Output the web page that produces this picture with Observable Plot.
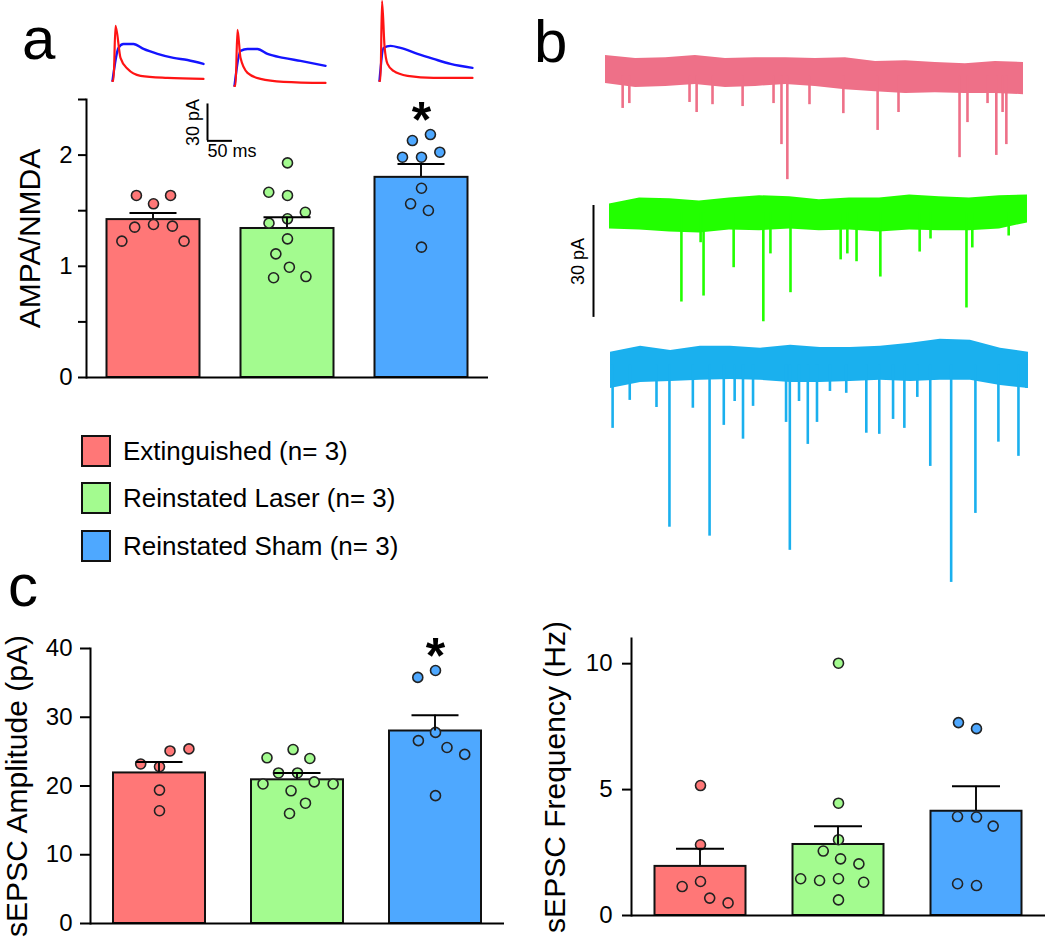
<!DOCTYPE html>
<html><head><meta charset="utf-8">
<script src="https://cdn.jsdelivr.net/npm/d3@7"></script>
<script src="https://cdn.jsdelivr.net/npm/@observablehq/plot@0.6"></script>
<style>
body{margin:0;background:#fff;}
#fig{position:relative;width:1050px;height:941px;overflow:hidden;font-family:"Liberation Sans",Arial,sans-serif;color:#000;background:#fff;}
#fig svg{position:absolute;overflow:visible;max-width:none;}
.pl g[aria-label="y-axis label"], .pl g[aria-label="y-axis label"] text{font-size:30px;}
.letter{position:absolute;font-size:60px;line-height:1;}
.leg{position:absolute;left:81px;height:34px;display:flex;align-items:center;font-size:26px;white-space:nowrap;}
.sw{width:26px;height:28px;border:2px solid #111;margin-right:12px;}
</style></head><body><div id="fig"></div>
<script>
// ---------- data ----------
const groups = ["Extinguished", "Reinstated Laser", "Reinstated Sham"];
const groupColors = ["#ff7777", "#a3fb8f", "#4ea8ff"];
const legendLabels = ["Extinguished (n= 3)", "Reinstated Laser (n= 3)", "Reinstated Sham (n= 3)"];

// AMPA/NMDA ratio
const ampaNmdaExt = [1.562, 1.637, 1.637, 1.376, 1.352, 1.361, 1.226, 1.226];
const ampaNmdaLaser = [1.427, 1.388, 1.486, 1.637, 1.666, 1.930, 1.247, 1.112, 0.992, 0.897, 0.908];
const ampaNmdaSham = [1.981, 1.981, 2.026, 2.131, 2.185, 1.702, 1.562, 1.502, 1.172];
const ampaNmdaMean = [1.42, 1.34, 1.80];
const ampaNmdaSem = [0.06, 0.10, 0.12];

// sEPSC amplitude (pA)
const ampExt = [22.8, 23.2, 25.1, 25.4, 19.4, 16.4];
const ampLaser = [21.9, 21.9, 20.6, 20.3, 20.3, 24.0, 25.3, 24.1, 19.3, 17.5, 16.0];
const ampSham = [27.8, 26.6, 25.6, 24.6, 36.8, 35.8, 18.6];
const ampMean = [21.9, 20.9, 28.0];
const ampSem = [1.6, 1.0, 2.3];

// sEPSC frequency (Hz)
const freqExt = [5.16, 2.81, 1.35, 1.15, 0.69, 0.50];
const freqLaser = [10.02, 4.46, 3.01, 2.56, 2.25, 2.05, 1.46, 1.39, 1.32, 1.46, 0.62];
const freqSham = [7.42, 7.66, 3.91, 3.93, 3.55, 1.19, 1.26];
const freqMean = [1.95, 2.82, 4.14];
const freqSem = [0.70, 0.72, 0.99];

// significance markers
const sigAmpaNmda = ["Reinstated Sham"];
const sigAmp = ["Reinstated Sham"];
const sigFreq = [];

// panel a example traces: [time (ms), current (pA)]
const ampaTrace1 = [[0,0],[2,0],[6,44.7],[16,18.7],[30,9.8],[56,4.1],[110,2.4],[182,1.6]];
const nmdaTrace1 = [[0,0],[12,26.8],[22,30],[42,30],[62,26],[90,22],[122,18.7],[150,17],[182,13.8]];
const ampaTrace2 = [[0,0],[2,0],[6,45.5],[12,22.8],[26,10.6],[52,5.7],[98,3.3],[182,2.4]];
const nmdaTrace2 = [[0,0],[12,28.5],[26,30],[46,30],[66,26],[98,22.8],[132,20.3],[182,16.3]];
const ampaTrace3 = [[0,0],[2,0],[5,65],[10,28.5],[16,13.8],[28,8.1],[56,4.1],[108,2.4],[186,2.4]];
const nmdaTrace3 = [[0,0],[8,26.8],[22,28.5],[42,26.8],[76,22],[108,17.9],[142,13.8],[186,10.6]];
const scaleBarA = {amp: 30, dur: 50, ampLabel: "30 pA", durLabel: "50 ms"};

// panel b sEPSC traces: noise envelope (pA) and events [time (s), pA]
const bandTimes = [0, 0.72, 1.44, 2.15, 2.87, 3.59, 4.31, 5.02, 5.74, 6.46, 7.18, 7.89, 8.61, 9.33, 10.0];
const extHi = [5.4,4.6,4.8,5.4,4.6,4.8,4.8,4.6,4.8,3.8,4.0,3.5,3.2,3.8,3.5];
const extLo = [-2.1,-3.2,-2.9,-2.4,-3.2,-2.9,-2.4,-2.9,-3.8,-4.3,-4.8,-4.6,-4.8,-4.8,-5.1];
const extEvents = [[0.41,-8.8],[0.57,-7.5],[2.01,-7.2],[2.18,-9.9],[2.56,-7.8],[3.28,-8.3],[4.02,-7.5],[4.21,-18.5],[4.35,-27.9],[4.88,-7.8],[5.69,-10.2],[6.51,-14.7],[7.01,-9.9],[8.47,-22.0],[8.66,-12.6],[9.14,-7.5],[9.35,-21.4],[9.50,-9.9],[9.59,-18.5]];
const laserHi = [2.4,4.0,3.8,3.2,4.0,4.6,4.3,3.5,4.0,4.0,4.8,4.3,4.0,4.6,4.8];
const laserLo = [-4.3,-4.6,-5.1,-5.4,-4.6,-4.8,-4.3,-4.8,-4.6,-5.1,-4.6,-4.8,-4.8,-4.3,-2.7];
const laserEvents = [[1.72,-23.9],[2.18,-8.0],[2.25,-22.3],[2.97,-14.7],[3.68,-29.2],[3.85,-11.0],[4.33,-21.4],[5.53,-12.6],[5.69,-11.0],[5.91,-13.1],[6.48,-17.2],[7.42,-10.5],[7.68,-7.0],[8.54,-25.5],[8.68,-9.4],[9.55,-6.2]];
const shamHi = [3.5,5.1,4.0,5.1,5.1,4.6,5.4,4.8,4.8,5.1,5.9,7.0,6.7,4.6,3.5];
const shamLo = [-6.2,-4.6,-4.3,-4.0,-3.8,-4.0,-4.6,-4.6,-4.3,-4.0,-4.3,-4.0,-4.0,-5.4,-6.2];
const shamEvents = [[0.05,-16.9],[0.46,-9.4],[1.10,-11.3],[1.41,-43.4],[1.97,-11.5],[2.37,-45.8],[2.71,-16.1],[2.97,-9.7],[3.17,-19.8],[3.41,-11.0],[4.20,-15.3],[4.29,-49.6],[4.51,-9.7],[4.72,-21.2],[4.94,-15.3],[5.25,-7.0],[5.64,-7.5],[6.12,-18.2],[6.43,-18.5],[6.76,-14.5],[7.03,-16.9],[7.34,-8.6],[7.65,-27.1],[8.15,-58.2],[8.73,-39.7],[9.28,-20.6],[9.76,-24.4],[9.95,-6.2]];
const scaleBarB = {amp: 30, label: "30 pA"};
const traceColors = ["#ee7088", "#22ff00", "#1ab0ee"];

// ---------- helpers ----------
const fig = document.getElementById("fig");
const FONT = "Liberation Sans, Arial, sans-serif";
function place(el, left, top) { el.style.left = left + "px"; el.style.top = top + "px"; el.classList.add("pl"); fig.appendChild(el); return el; }
function points(lists) { return lists.flatMap((vals, i) => vals.map(value => ({group: groups[i], value}))); }
function summary(means, sems) { return groups.map((g, i) => ({group: g, mean: means[i], sem: sems[i]})); }
function sigData(sig, dots) { return sig.map(g => ({group: g, top: d3.max(dots.filter(d => d.group === g), d => d.value)})); }

function barPanel(o) {
  const width = o.marginLeft + 3 * o.step + o.marginRight;
  const stemInset = (o.step - 2) / 2;
  return Plot.plot({
    width, height: o.height,
    marginLeft: o.marginLeft, marginRight: o.marginRight, marginTop: o.marginTop, marginBottom: o.marginBottom,
    style: {fontFamily: FONT, fontSize: "24px", background: "transparent", color: "#000"},
    fx: {domain: groups, padding: 0, axis: null, label: null},
    y: {domain: o.yDomain},
    color: {domain: groups, range: groupColors},
    marks: [
      Plot.barY(o.summary, {fx: "group", y: "mean", fill: "group", stroke: "#111", strokeWidth: 2, insetLeft: o.barInset, insetRight: o.barInset}),
      Plot.ruleY([0], {strokeWidth: 2}),
      Plot.dot(o.dots, Plot.dodgeX({anchor: "middle", padding: 9}, {fx: "group", y: "value", r: 5, fill: "group", stroke: "#222", strokeWidth: 1.6})),
      Plot.rectY(o.summary, {fx: "group", y1: "mean", y2: d => d.mean + d.sem, fill: "#111", insetLeft: stemInset, insetRight: stemInset}),
      Plot.tickY(o.summary, {fx: "group", y: d => d.mean + d.sem, strokeWidth: 2, insetLeft: o.capInset, insetRight: o.capInset}),
      Plot.text(o.sig, {fx: "group", y: "top", text: () => "*", fontSize: 50, fontWeight: "bold", dy: -14}),
      Plot.axisY({ticks: o.ticks, tickFormat: o.tickFormat, tickSize: o.tickSize, tickPadding: o.tickPadding, strokeWidth: 2, label: o.label, labelAnchor: "center", labelArrow: "none", labelOffset: o.labelOffset}),
      Plot.frame({anchor: "left", strokeWidth: 2, facetAnchor: "left"})
    ]
  });
}

// ---------- panel a ----------
const dotsA = points([ampaNmdaExt, ampaNmdaLaser, ampaNmdaSham]);
place(barPanel({
  dots: dotsA, summary: summary(ampaNmdaMean, ampaNmdaSem), sig: sigData(sigAmpaNmda, dotsA),
  yDomain: [0, 2.5], ticks: 5, tickFormat: d => Number.isInteger(d) ? String(d) : "",
  label: "AMPA/NMDA", labelOffset: 68,
  marginLeft: 86, marginRight: 10, marginTop: 9, marginBottom: 13, height: 300, step: 134,
  tickSize: 8, tickPadding: 6, barInset: 20.5, capInset: 43.5
}), 0, 90);

// example AMPA / NMDA traces
const pxMs = 0.5, pxPa = 1.23;
const traceDomY = [-4, 67];
[[ampaTrace1, nmdaTrace1, 112, 80], [ampaTrace2, nmdaTrace2, 234, 85], [ampaTrace3, nmdaTrace3, 379, 80]].forEach(([ampa, nmda, left, base]) => {
  const p = Plot.plot({
    width: 190 * pxMs, height: (traceDomY[1] - traceDomY[0]) * pxPa, margin: 0,
    style: {background: "transparent"},
    x: {domain: [0, 190], axis: null}, y: {domain: traceDomY, axis: null},
    marks: [
      Plot.line(nmda, {stroke: "#1414ff", strokeWidth: 2.4, curve: "monotone-x"}),
      Plot.line(ampa, {stroke: "#ff1414", strokeWidth: 2.2, curve: "monotone-x"})
    ]
  });
  place(p, left, base - traceDomY[1] * pxPa);
});

// scale bar a
{
  const xd = [-50, 110], yd = [-20, 32];
  const p = Plot.plot({
    width: (xd[1] - xd[0]) * pxMs, height: (yd[1] - yd[0]) * pxPa, margin: 0,
    style: {fontFamily: FONT, fontSize: "18px", background: "transparent", color: "#000"},
    x: {domain: xd, axis: null}, y: {domain: yd, axis: null},
    marks: [
      Plot.ruleX([scaleBarA], {x: 0, y1: 0, y2: "amp", strokeWidth: 2}),
      Plot.ruleY([scaleBarA], {y: 0, x1: 0, x2: "dur", strokeWidth: 2}),
      Plot.text([scaleBarA], {x: 0, y: d => d.amp / 2, text: "ampLabel", rotate: -90, dx: -14}),
      Plot.text([scaleBarA], {x: 0, y: 0, text: "durLabel", textAnchor: "start", lineAnchor: "top", dy: 3})
    ]
  });
  place(p, 207 - (0 - xd[0]) * pxMs, 140 - yd[1] * pxPa);
}

// ---------- panel b ----------
const pxSec = 41.8, pxPaB = 3.73;
function band(hi, lo) { return bandTimes.map((t, i) => ({t, hi: hi[i], lo: lo[i]})); }
[[extHi, extLo, extEvents, [-30, 7], 605, 75, 0],
 [laserHi, laserLo, laserEvents, [-31, 6], 609, 212, 1],
 [shamHi, shamLo, shamEvents, [-60, 8], 610, 365, 2]].forEach(([hi, lo, ev, yd, left, base, k]) => {
  const color = traceColors[k];
  const p = Plot.plot({
    width: 10 * pxSec, height: (yd[1] - yd[0]) * pxPaB, margin: 0,
    style: {background: "transparent"},
    x: {domain: [0, 10], axis: null}, y: {domain: yd, axis: null},
    marks: [
      Plot.areaY(band(hi, lo), {x: "t", y1: "lo", y2: "hi", fill: color, curve: "linear"}),
      Plot.ruleX(ev, {x: d => d[0], y1: 0, y2: d => d[1], stroke: color, strokeWidth: 2.6})
    ]
  });
  place(p, left, base - yd[1] * pxPaB);
});
{
  const p = Plot.plot({
    width: 40, height: scaleBarB.amp * pxPaB, margin: 0,
    style: {fontFamily: FONT, fontSize: "18px", background: "transparent", color: "#000"},
    x: {domain: [-1, 1], axis: null},
    y: {domain: [0, scaleBarB.amp], axis: null},
    marks: [
      Plot.ruleX([scaleBarB], {x: 0, y1: 0, y2: "amp", strokeWidth: 2}),
      Plot.text([scaleBarB], {x: 0, y: d => d.amp / 2, text: "label", rotate: -90, dx: -15})
    ]
  });
  place(p, 573, 205);
}

// ---------- panel c ----------
const dotsAmp = points([ampExt, ampLaser, ampSham]);
place(barPanel({
  dots: dotsAmp, summary: summary(ampMean, ampSem), sig: sigData(sigAmp, dotsAmp),
  yDomain: [0, 40], ticks: 4, tickFormat: d => String(d),
  label: "sEPSC Amplitude (pA)", labelOffset: 85,
  marginLeft: 90, marginRight: 4, marginTop: 18, marginBottom: 15, height: 308, step: 138,
  tickSize: 10, tickPadding: 8, barInset: 23, capInset: 45.5
}), 0, 630);

const dotsFreq = points([freqExt, freqLaser, freqSham]);
place(barPanel({
  dots: dotsFreq, summary: summary(freqMean, freqSem), sig: sigData(sigFreq, dotsFreq),
  yDomain: [0, 11], ticks: 2, tickFormat: d => String(d),
  label: "sEPSC Frequency (Hz)", labelOffset: 88,
  marginLeft: 111, marginRight: 5, marginTop: 18, marginBottom: 20, height: 315, step: 138,
  tickSize: 9, tickPadding: 10, barInset: 23.5, capInset: 45
}), 520, 620);

// ---------- legend & panel letters ----------
legendLabels.forEach((lab, i) => {
  const row = document.createElement("div");
  row.className = "leg";
  row.style.top = ([451, 498, 546][i] - 17) + "px";
  const sw = document.createElement("div");
  sw.className = "sw"; sw.style.background = groupColors[i];
  const tx = document.createElement("span"); tx.textContent = lab;
  row.appendChild(sw); row.appendChild(tx);
  fig.appendChild(row);
});
[["a", 22, 9], ["b", 534, 12], ["c", 8, 556]].forEach(([t, l, tp]) => {
  const d = document.createElement("div");
  d.className = "letter"; d.textContent = t;
  d.style.left = l + "px"; d.style.top = tp + "px";
  fig.appendChild(d);
});
</script></body></html>
